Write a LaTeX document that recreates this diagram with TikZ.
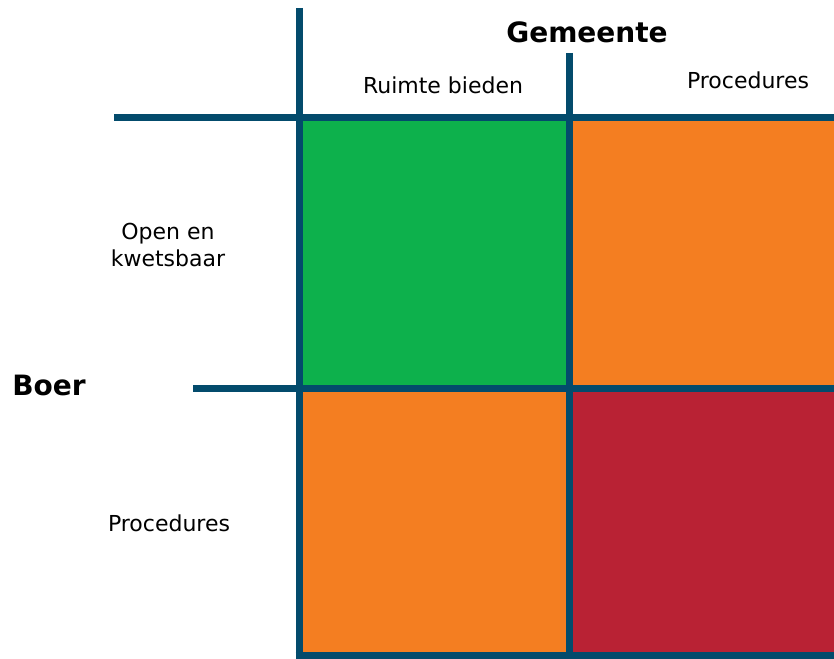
\documentclass[tikz,border=0pt]{standalone}
\usepackage{fontspec}
\setmainfont{DejaVu Sans}
\definecolor{gridblue}{RGB}{3,75,108}
\definecolor{cellgreen}{RGB}{13,177,76}
\definecolor{cellorange}{RGB}{244,126,33}
\definecolor{cellred}{RGB}{185,34,52}
\tikzset{every picture/.style={line width=0.75pt}}
\tikzset{gridline/.style={draw=gridblue,line width=5.25pt},
         axislabel/.style={font=\fontsize{21}{25}\selectfont\bfseries},
         celllabel/.style={font=\fontsize{16.5}{20}\selectfont,align=center}}
\begin{document}
\begin{tikzpicture}[x=0.75pt,y=0.75pt,yscale=-1,xscale=1]
\useasboundingbox (0,0) rectangle (834,659);

%Shape: Rectangle [id:cell11]
\fill [cellgreen] (299,118) rectangle (569,388) ;
%Shape: Rectangle [id:cell12]
\fill [cellorange] (569,118) rectangle (834,388) ;
%Shape: Rectangle [id:cell21]
\fill [cellorange] (299,388) rectangle (569,655) ;
%Shape: Rectangle [id:cell22]
\fill [cellred] (569,388) rectangle (834,655) ;

%Straight Lines [id:vleft]
\draw [gridline]   (299,8) -- (299,659) ;
%Straight Lines [id:vmid]
\draw [gridline]   (569,53) -- (569,655) ;
%Straight Lines [id:htop]
\draw [gridline]   (114,118) -- (834,118) ;
%Straight Lines [id:hmid]
\draw [gridline]   (193,388) -- (834,388) ;
%Straight Lines [id:hbottom]
\draw [gridline]   (295.5,655.5) -- (834,655.5) ;

% Text Node
\draw (587,32) node [axislabel] (gemeente) {Gemeente};
% Text Node
\draw (49,385) node [axislabel] (boer) {Boer};
% Text Node
\draw (443,85) node [celllabel] (ruimte) {Ruimte bieden};
% Text Node
\draw (748,80) node [celllabel] (procG) {Procedures};
% Text Node
\draw (168,245) node [celllabel] (open) {Open en\\kwetsbaar};
% Text Node
\draw (169,523) node [celllabel] (procB) {Procedures};

\end{tikzpicture}
\end{document}
